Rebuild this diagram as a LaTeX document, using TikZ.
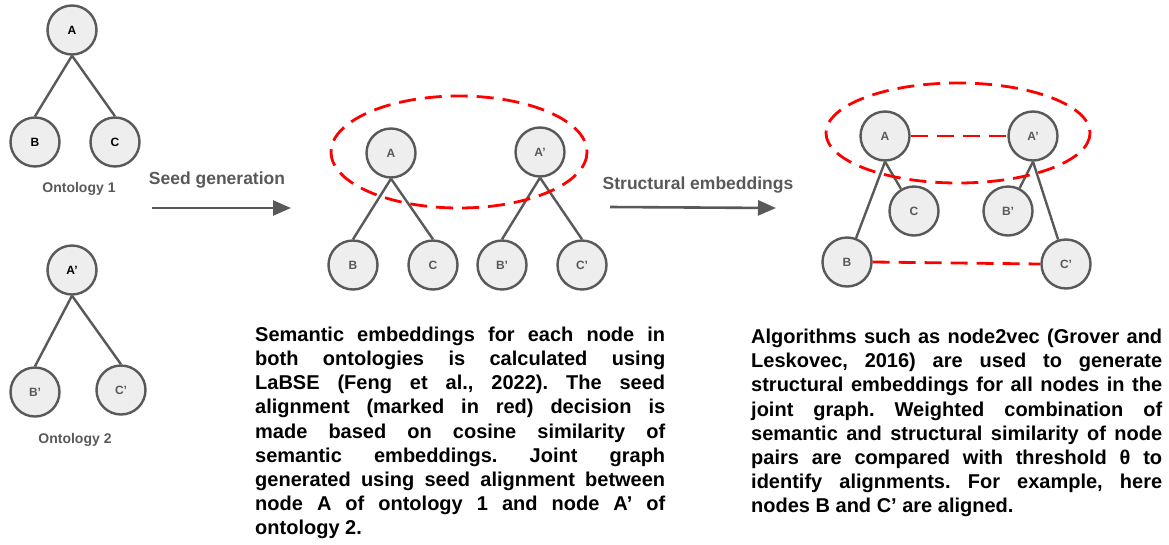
\documentclass[tikz,border=0pt]{standalone}
\usepackage{fontspec}
\setmainfont{Liberation Sans}
\usetikzlibrary{arrows.meta}
\definecolor{linegray}{HTML}{595959}
\definecolor{fillgray}{HTML}{EEEEEE}
\hyphenpenalty=10000
\tolerance=10000
\frenchspacing
\begin{document}
\begin{tikzpicture}[x=1pt,y=-1pt,
  vertex/.style={draw=linegray,circle,minimum size=49pt,inner sep=0pt,line width=2.4pt,fill=fillgray,font=\fontsize{12}{14}\selectfont\bfseries,text=linegray},
  dark/.style={text=black},
  edge/.style={draw=linegray,line width=2.4pt},
  seed/.style={draw=red,line width=2.8pt,dash pattern=on 17pt off 9pt},
  caption/.style={text=linegray,font=\fontsize{14}{16}\selectfont\bfseries},
  steplabel/.style={text=linegray,font=\fontsize{17.5}{20}\selectfont\bfseries},
  stepline/.style={draw=linegray,line width=2.6pt,-{Triangle[length=18pt,width=15pt]}},
  para/.style={anchor=north west,inner sep=0pt,text width=410pt,align=justify,font=\fontsize{20}{24.1}\selectfont\bfseries}]
  \useasboundingbox (0,0) rectangle (1169,544);
  % ontology 1
  \node[vertex,dark] (oA) at (72,30) {A};
  \node[vertex,dark] (oB) at (35,142) {B};
  \node[vertex,dark] (oC) at (115,142) {C};
  \draw[edge] (oA.south) -- (oB.north);
  \draw[edge] (oA.south) -- (oC.north);
  \node[caption] (onto1) at (79,189) {Ontology 1};
  % ontology 2
  \node[vertex,dark] (pA) at (72,270) {A'};
  \node[vertex] (pB) at (35,392) {B'};
  \node[vertex] (pC) at (121,390) {C'};
  \draw[edge] (pA.south) -- (pB.north);
  \draw[edge] (pA.south) -- (pC.north);
  \node[caption] (onto2) at (75,440) {Ontology 2};
  % seed generation
  \node[steplabel] (seedtxt) at (217,180) {Seed generation};
  \coordinate (s1) at (152,208);
  \coordinate (s2) at (291,208);
  \draw[stepline] (s1) -- (s2);
  % joint graph
  \node[vertex] (jA) at (391,153) {A};
  \node[vertex] (jAp) at (540,152) {A'};
  \node[vertex] (jB) at (353,265) {B};
  \node[vertex] (jC) at (433,265) {C};
  \node[vertex] (jBp) at (502,265) {B'};
  \node[vertex] (jCp) at (582,265) {C'};
  \draw[edge] (jA.south) -- (jB.north);
  \draw[edge] (jA.south) -- (jC.north);
  \draw[edge] (jAp.south) -- (jBp.north);
  \draw[edge] (jAp.south) -- (jCp.north);
  \draw[seed] (459,152) ellipse [x radius=128, y radius=56];
  % structural embeddings
  \node[steplabel] (structtxt) at (698,185) {Structural embeddings};
  \coordinate (t1) at (610,207);
  \coordinate (t2) at (776,208);
  \draw[stepline] (t1) -- (t2);
  % aligned graph
  \node[vertex] (kA) at (885,136) {A};
  \node[vertex] (kAp) at (1033,136) {A'};
  \node[vertex] (kC) at (914,211) {C};
  \node[vertex] (kBp) at (1008,211) {B'};
  \node[vertex] (kB) at (847,262) {B};
  \node[vertex] (kCp) at (1066,264) {C'};
  \draw[edge] (kA.south) -- (kB);
  \draw[edge] (kA.south) -- (kC);
  \draw[edge] (kAp.south) -- (kBp);
  \draw[edge] (kAp.south) -- (kCp);
  \draw[seed] (kA.east) -- (kAp.west);
  \draw[seed] (kB.east) -- (kCp.west);
  \draw[seed] (958,133) ellipse [x radius=132, y radius=50];
  % descriptions
  \node[para] (desc1) at (255,327) {Semantic embeddings for each node in\linebreak both ontologies is calculated using\linebreak LaBSE (Feng et al., 2022). The seed\linebreak alignment (marked in red) decision is\linebreak made based on cosine similarity of\linebreak semantic embeddings. Joint graph\linebreak generated using seed alignment between\linebreak node A of ontology 1 and node A’ of\linebreak ontology 2.};
  \node[para,text width=411pt] (desc2) at (751,329) {Algorithms such as node2vec (Grover and\linebreak Leskovec, 2016) are used to generate\linebreak structural embeddings for all nodes in the\linebreak joint graph. Weighted combination of\linebreak semantic and structural similarity of node\linebreak pairs are compared with threshold θ to\linebreak identify alignments. For example, here\linebreak nodes B and C’ are aligned.};
\end{tikzpicture}
\end{document}
